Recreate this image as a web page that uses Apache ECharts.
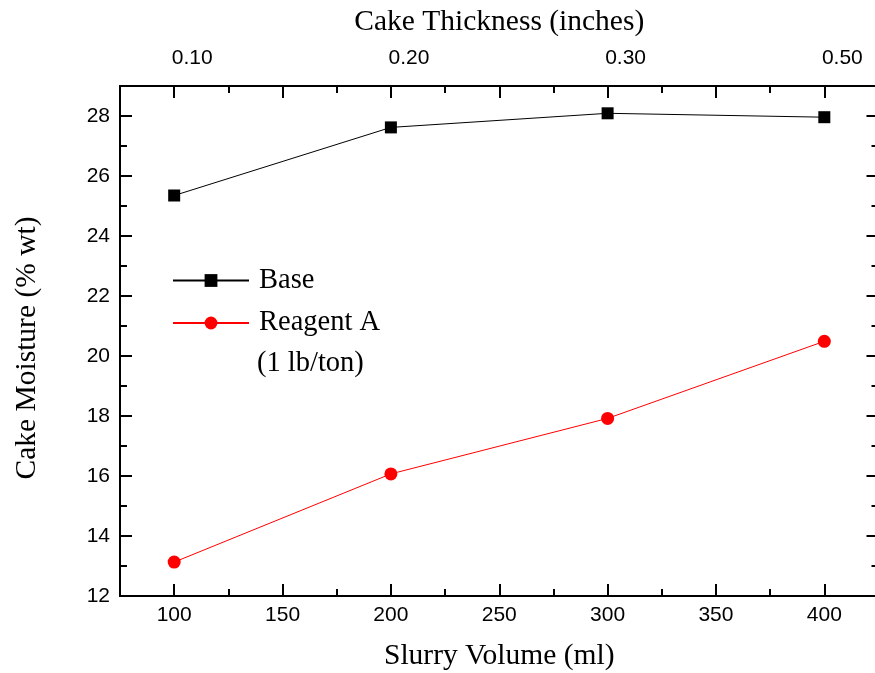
<!DOCTYPE html>
<html>
<head>
<meta charset="utf-8">
<script src="https://cdn.jsdelivr.net/npm/echarts@6/dist/echarts.min.js"></script>
<style>html,body{margin:0;padding:0;background:#fff}#c{width:875px;height:673px}</style>
</head>
<body>
<div id="c"></div>
<script>
var slurryVolume = [100, 200, 300, 400];
var baseMoisture = [25.35, 27.62, 28.09, 27.96];
var reagentMoisture = [13.13, 16.07, 17.92, 20.49];
var xMajorTicks = [100, 150, 200, 250, 300, 350, 400];
var xMinorTicks = [125, 175, 225, 275, 325, 375];
var topTickValues = [100, 200, 300, 400];
var topTickLabels = ['0.10', '0.20', '0.30', '0.50'];
var seriesNames = ['Base', 'Reagent A'];

var sans = '"Liberation Sans", Arial, sans-serif';
var serif = '"Liberation Serif", "Times New Roman", serif';
var XMIN = 75, XMAX = 425, YMIN = 12, YMAX = 29;

function pts(ys) { return slurryVolume.map(function (x, i) { return [x, ys[i]]; }); }

var axLine = {show: true, lineStyle: {color: '#000', width: 2}};
function xAx(pos, ticks, tickLen, labelOpt, extra) {
  var a = {
    type: 'value', position: pos, min: XMIN, max: XMAX,
    axisLine: axLine,
    axisTick: {show: true, inside: true, length: tickLen, customValues: ticks, lineStyle: {color: '#000', width: 2}},
    axisLabel: labelOpt || {show: false},
    splitLine: {show: false}
  };
  return Object.assign(a, extra || {});
}
function yAx(pos, interval, tickLen, labelOpt, extra) {
  var a = {
    type: 'value', position: pos, min: YMIN, max: YMAX, interval: interval,
    axisLine: axLine,
    axisTick: {show: true, inside: true, length: tickLen, lineStyle: {color: '#000', width: 2}},
    axisLabel: labelOpt || {show: false},
    splitLine: {show: false}
  };
  return Object.assign(a, extra || {});
}

var chart = echarts.init(document.getElementById('c'));
chart.setOption({
  animation: false,
  backgroundColor: '#fff',
  grid: {left: 120, top: 86, width: 758.5, height: 510, containLabel: false, outerBoundsMode: 'none'},
  legend: {
    data: seriesNames,
    orient: 'vertical',
    left: 172, top: 266, padding: 0,
    itemWidth: 76, itemHeight: 16, itemGap: 13.5,
    textStyle: {fontFamily: serif, fontSize: 28.5, color: '#000', padding: [0, 0, 0, 5]}
  },
  graphic: [{
    type: 'text', left: 257, top: 349,
    style: {text: '(1 lb/ton)', fontFamily: serif, fontSize: 28.5, fill: '#000'}
  }],
  xAxis: [
    xAx('bottom', xMinorTicks, 7),
    xAx('bottom', xMajorTicks, 12, {
      show: true, fontFamily: sans, fontSize: 21, color: '#000', margin: 9,
      customValues: xMajorTicks
    }, {
      name: 'Slurry Volume (ml)', nameLocation: 'middle', nameGap: 45,
      nameTextStyle: {fontFamily: serif, fontSize: 29.5, color: '#000'}
    }),
    xAx('top', xMinorTicks, 7),
    xAx('top', xMajorTicks, 12, {
      show: true, fontFamily: sans, fontSize: 21, color: '#000', margin: 17,
      customValues: topTickValues, padding: [0, 0, 0, 36],
      formatter: function (v) { var i = topTickValues.indexOf(v); return i >= 0 ? topTickLabels[i] : ''; }
    }, {
      name: 'Cake Thickness (inches)', nameLocation: 'middle', nameGap: 49,
      nameTextStyle: {fontFamily: serif, fontSize: 29.5, color: '#000'}
    })
  ],
  yAxis: [
    yAx('left', 1, 7),
    yAx('left', 2, 12, {
      show: true, fontFamily: sans, fontSize: 21, color: '#000', margin: 10,
      showMaxLabel: false
    }, {
      name: 'Cake Moisture (% wt)', nameLocation: 'middle', nameGap: 78, nameRotate: 90,
      nameTextStyle: {fontFamily: serif, fontSize: 29.5, color: '#000', padding: [0, 14, 0, 0]}
    }),
    yAx('right', 1, 7),
    yAx('right', 2, 12)
  ],
  series: [
    {
      name: seriesNames[0], type: 'line', xAxisIndex: 1, yAxisIndex: 1,
      data: pts(baseMoisture), symbol: 'rect', symbolSize: 12,
      lineStyle: {color: '#000', width: 1}, itemStyle: {color: '#000'}
    },
    {
      name: seriesNames[1], type: 'line', xAxisIndex: 1, yAxisIndex: 1,
      data: pts(reagentMoisture), symbol: 'circle', symbolSize: 13,
      lineStyle: {color: '#ff0000', width: 1}, itemStyle: {color: '#ff0000'}
    }
  ]
});
</script>
</body>
</html>
